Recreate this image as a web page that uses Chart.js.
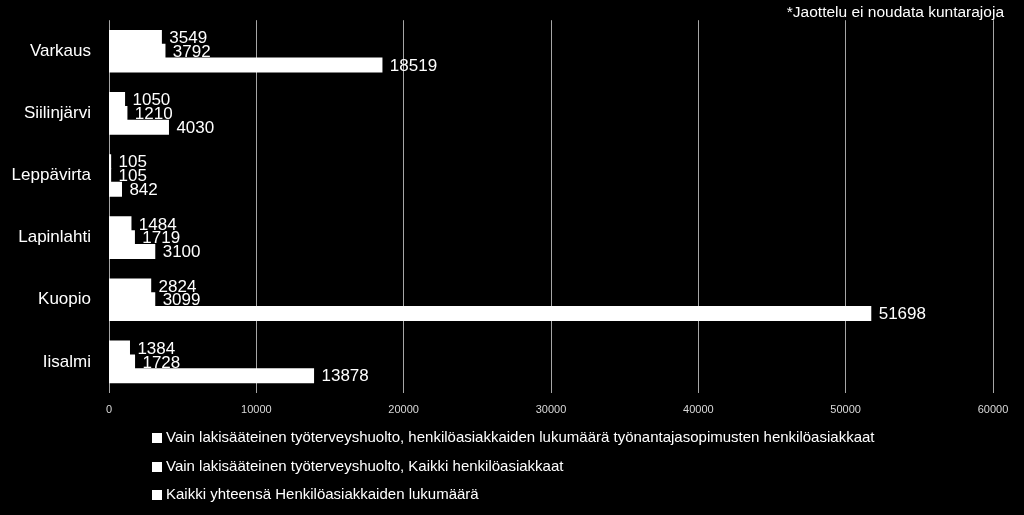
<!DOCTYPE html>
<html>
<head>
<meta charset="utf-8">
<script src="https://cdn.jsdelivr.net/npm/chart.js@4/dist/chart.umd.min.js"></script>
<style>
html,body{margin:0;padding:0;background:#000;}
canvas{display:block;}
</style>
</head>
<body>
<canvas id="c" width="1024" height="515"></canvas>
<script>
const categories = ["Varkaus", "Siilinjärvi", "Leppävirta", "Lapinlahti", "Kuopio", "Iisalmi"];
const seriesNames = [
  "Vain lakisääteinen työterveyshuolto, henkilöasiakkaiden lukumäärä työnantajasopimusten henkilöasiakkaat",
  "Vain lakisääteinen työterveyshuolto, Kaikki henkilöasiakkaat",
  "Kaikki yhteensä Henkilöasiakkaiden lukumäärä"
];
const series1 = [3549, 1050, 105, 1484, 2824, 1384];
const series2 = [3792, 1210, 105, 1719, 3099, 1728];
const series3 = [18519, 4030, 842, 3100, 51698, 13878];
const xTicks = [0, 10000, 20000, 30000, 40000, 50000, 60000];
const note = "*Jaottelu ei noudata kuntarajoja";

const FONT = "'Liberation Sans', 'DejaVu Sans', sans-serif";

const labelsPlugin = {
  id: 'valueLabels',
  afterDatasetsDraw(chart) {
    const ctx = chart.ctx;
    ctx.save();
    ctx.fillStyle = '#ffffff';
    ctx.font = '17px ' + FONT;
    ctx.textAlign = 'left';
    ctx.textBaseline = 'middle';
    chart.data.datasets.forEach((ds, i) => {
      const meta = chart.getDatasetMeta(i);
      meta.data.forEach((bar, j) => {
        ctx.fillText(String(ds.data[j]), bar.x + 8, bar.y + 1);
      });
    });
    ctx.restore();
  },
  afterDraw(chart) {
    const ctx = chart.ctx;
    ctx.save();
    ctx.fillStyle = '#ffffff';
    ctx.font = '15.5px ' + FONT;
    ctx.textAlign = 'right';
    ctx.textBaseline = 'middle';
    ctx.fillText(note, 1004, 13);
    ctx.font = '15px ' + FONT;
    ctx.textAlign = 'left';
    const rowsY = [438, 467, 495];
    chart.data.datasets.forEach((ds, i) => {
      const y = rowsY[i];
      ctx.fillStyle = '#ffffff';
      ctx.fillRect(152, y - 5, 10, 10);
      ctx.fillText(ds.label, 166, y);
    });
    ctx.restore();
  }
};

new Chart(document.getElementById('c'), {
  type: 'bar',
  data: {
    labels: categories,
    datasets: [
      { label: seriesNames[0], data: series1 },
      { label: seriesNames[1], data: series2 },
      { label: seriesNames[2], data: series3 }
    ].map(d => Object.assign(d, {
      backgroundColor: '#ffffff',
      borderWidth: 0,
      inflateAmount: 0.6,
      categoryPercentage: 0.667,
      barPercentage: 1.0
    }))
  },
  options: {
    indexAxis: 'y',
    responsive: false,
    animation: false,
    devicePixelRatio: 1,
    layout: { padding: { top: 15, right: 31, left: 0, bottom: 0 } },
    plugins: { legend: { display: false }, tooltip: { enabled: false } },
    scales: {
      x: {
        min: 0, max: 60000,
        afterBuildTicks(scale) { scale.ticks = xTicks.map(v => ({ value: v })); },
        afterFit(scale) { scale.height = 122; },
        grid: { color: '#a6a6a6', lineWidth: 1, drawTicks: false },
        border: { display: false },
        ticks: { color: '#d9d9d9', font: { size: 11, family: FONT }, padding: 10, maxRotation: 0,
                 callback: (v) => String(v) }
      },
      y: {
        afterFit(scale) { scale.width = 109; },
        grid: { display: false },
        border: { display: false },
        ticks: { color: '#ffffff', font: { size: 17, family: FONT }, padding: 10 }
      }
    }
  },
  plugins: [labelsPlugin]
});
</script>
</body>
</html>
